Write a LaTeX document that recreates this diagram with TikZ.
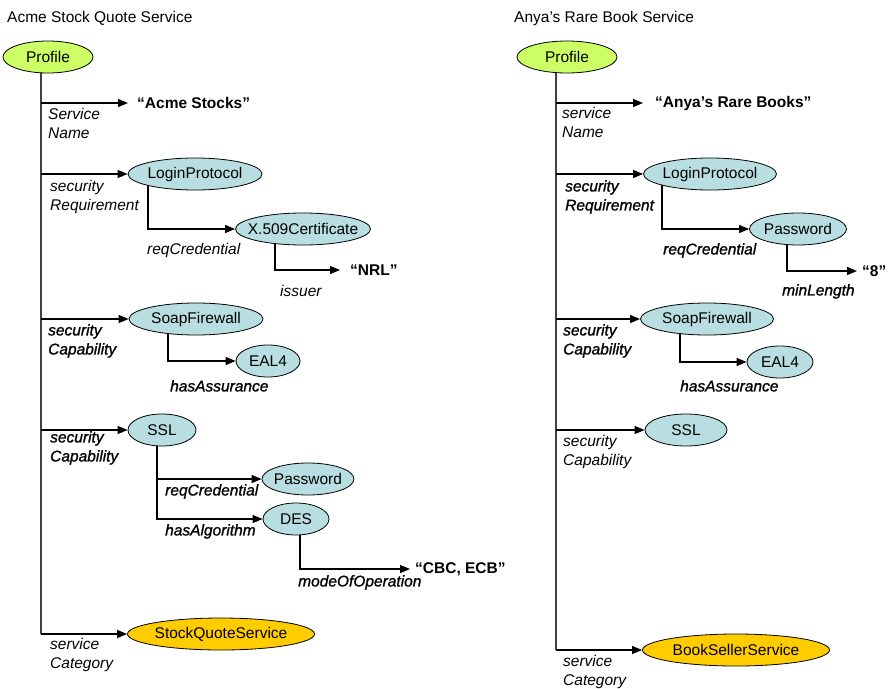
\documentclass[tikz,border=0pt]{standalone}
\usepackage{fontspec}
\setmainfont{Liberation Sans}
\newfontfamily\heavyit{Liberation Sans}[FakeBold=1.2,ItalicFeatures={FakeBold=1.2}]
\usetikzlibrary{arrows.meta,shapes.geometric}
\pgfdeclarelayer{background}
\pgfsetlayers{background,main}
\definecolor{profilefill}{HTML}{CCFF66}
\definecolor{conceptfill}{HTML}{B8DEE1}
\definecolor{categoryfill}{HTML}{FFCC00}
\newcommand{\cname}[1]{\makebox[0pt]{#1}}
\tikzset{
  basefont/.style={font=\fontsize{15.5}{19}\selectfont},
  cls/.style={ellipse, draw, line width=0.8pt, inner sep=0pt, minimum height=32pt, basefont},
  profilenode/.style={cls, fill=profilefill},
  concept/.style={cls, fill=conceptfill},
  category/.style={cls, fill=categoryfill},
  literal/.style={anchor=west, inner ysep=0pt, font=\fontsize{15.5}{19}\selectfont\bfseries},
  role/.style={anchor=north west, inner sep=0pt, align=left, font=\fontsize{15.5}{19}\selectfont\itshape},
  heavyrole/.style={role, font=\fontsize{15.5}{19}\selectfont\heavyit\itshape},
  heading/.style={anchor=base west, inner sep=0pt, basefont},
  link/.style={line width=1.2pt},
  arr/.style={link, -{Triangle[length=10pt,width=8pt]}},
  trunkline/.style={line width=1.4pt, draw=black!75},
}
\begin{document}
\begin{tikzpicture}[x=1pt,y=-1pt]
\useasboundingbox (0,0) rectangle (891,688);

% ---------------- Acme Stock Quote Service ----------------
\node[heading] (titleA) at (7,22) {Acme Stock Quote Service};
\node[profilenode, minimum width=90pt] (profA) at (48,57) {\cname{Profile}};
\coordinate (trA) at (41,57);

\node[literal, inner xsep=9pt] (nameA) at (128,103) {“Acme Stocks”};
\node[concept, minimum width=134pt] (loginA) at (195,174) {\cname{LoginProtocol}};
\node[concept, minimum width=135pt] (certA) at (303,229) {\cname{X.509Certificate}};
\node[literal, inner xsep=10pt] (issuerA) at (340,270) {“NRL”};
\node[concept, minimum width=134pt] (fireA) at (196,319) {\cname{SoapFirewall}};
\node[concept, minimum width=64pt] (ealA) at (268,361) {\cname{EAL4}};
\node[concept, minimum width=68pt] (sslA) at (162,430) {\cname{SSL}};
\node[concept, minimum width=92pt] (pwA) at (308,479) {\cname{Password}};
\node[concept, minimum width=66pt] (desA) at (296,519) {\cname{DES}};
\node[literal, inner xsep=5pt] (modeA) at (410,569) {“CBC, ECB”};
\node[category, minimum width=187pt] (catA) at (221,634) {\cname{StockQuoteService}};

\node[role] (lblA1) at (48,108) {Service\\Name};
\node[role] (lblA2) at (50,180) {security\\Requirement};
\node[role] (lblA3) at (147,243) {reqCredential};
\node[role] (lblA4) at (280,285) {issuer};
\node[heavyrole] (lblA5) at (48,324) {security\\Capability};
\node[heavyrole] (lblA6) at (170,380) {hasAssurance};
\node[heavyrole] (lblA7) at (50,431) {security\\Capability};
\node[heavyrole] (lblA8) at (165,484) {reqCredential};
\node[heavyrole] (lblA9) at (165,524) {hasAlgorithm};
\node[heavyrole] (lblA10) at (298,575) {modeOfOperation};
\node[role] (lblA11) at (50,638) {service\\Category};

% ---------------- Anya's Rare Book Service ----------------
\node[heading] (titleB) at (514,22) {Anya’s Rare Book Service};
\node[profilenode, minimum width=100pt] (profB) at (567,57) {\cname{Profile}};
\coordinate (trB) at (556,57);

\node[literal, inner xsep=12pt] (nameB) at (643,103) {“Anya’s Rare Books”};
\node[concept, minimum width=133pt] (loginB) at (710,174) {\cname{LoginProtocol}};
\node[concept, minimum width=97pt] (pwB) at (798,229) {\cname{Password}};
\node[literal, inner xsep=5pt] (lenB) at (857,271) {“8”};
\node[concept, minimum width=133pt] (fireB) at (707,319) {\cname{SoapFirewall}};
\node[concept, minimum width=66pt] (ealB) at (780,362) {\cname{EAL4}};
\node[concept, minimum width=82pt] (sslB) at (686,430) {\cname{SSL}};
\node[category, minimum width=187pt] (catB) at (736,650) {\cname{BookSellerService}};

\node[role] (lblB1) at (562,107) {service\\Name};
\node[heavyrole] (lblB2) at (565,180) {security\\Requirement};
\node[heavyrole] (lblB3) at (663,243) {reqCredential};
\node[heavyrole] (lblB4) at (782,284) {minLength};
\node[heavyrole] (lblB5) at (563,324) {security\\Capability};
\node[heavyrole] (lblB6) at (680,380) {hasAssurance};
\node[role] (lblB7) at (563,435) {security\\Capability};
\node[role] (lblB8) at (563,655) {service\\Category};

% ---------------- connectors ----------------
\begin{pgfonlayer}{background}
  % left profile
  \draw[trunkline] (trA) -- (trA |- catA.west);
  \draw[arr] (trA |- nameA.west) -- (nameA.west);
  \draw[arr] (trA |- loginA.west) -- (loginA.west);
  \draw[arr] (trA |- fireA.west) -- (fireA.west);
  \draw[arr] (trA |- sslA.west) -- (sslA.west);
  \draw[arr] (trA |- catA.west) -- (catA.west);
  \draw[arr] ([xshift=-47pt]loginA.center) |- (certA.west);
  \draw[arr] ([xshift=-28pt]certA.center) |- (issuerA.west);
  \draw[arr] ([xshift=-28pt]fireA.center) |- (ealA.west);
  \draw[arr] ([xshift=-5pt]sslA.center) |- (pwA.west);
  \draw[arr] ([xshift=-5pt]sslA.center) |- (desA.west);
  \draw[arr] ([xshift=4pt]desA.center) |- (modeA.west);
  % right profile
  \draw[trunkline] (trB) -- (trB |- catB.west);
  \draw[arr] (trB |- nameB.west) -- (nameB.west);
  \draw[arr] (trB |- loginB.west) -- (loginB.west);
  \draw[arr] (trB |- fireB.west) -- (fireB.west);
  \draw[arr] (trB |- sslB.west) -- (sslB.west);
  \draw[arr] (trB |- catB.west) -- (catB.west);
  \draw[arr] ([xshift=-48pt]loginB.center) |- (pwB.west);
  \draw[arr] ([xshift=-11pt]pwB.center) |- (lenB.west);
  \draw[arr] ([xshift=-27pt]fireB.center) |- (ealB.west);
\end{pgfonlayer}
\end{tikzpicture}
\end{document}
